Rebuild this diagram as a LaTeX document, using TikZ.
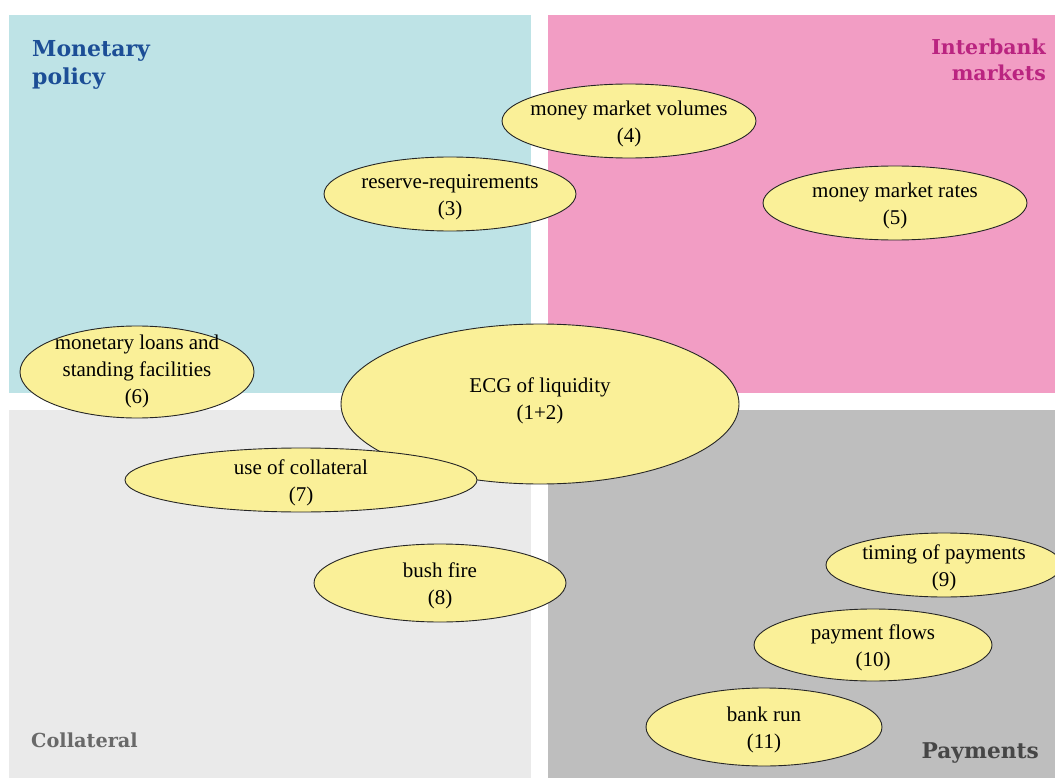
\documentclass[tikz,border=0pt]{standalone}
\usepackage{fontspec}
\setmainfont{Liberation Serif}
\newfontfamily\headfont{DejaVu Serif}
\definecolor{mpbg}{RGB}{190,227,230}
\definecolor{ibbg}{RGB}{242,157,196}
\definecolor{colbg}{RGB}{234,234,234}
\definecolor{paybg}{RGB}{190,190,190}
\definecolor{bubblefill}{RGB}{250,240,152}
\definecolor{mpblue}{RGB}{28,78,150}
\definecolor{ibmag}{RGB}{186,36,128}
\definecolor{colgray}{RGB}{105,105,105}
\definecolor{paygray}{RGB}{70,70,70}
\begin{document}
\begin{tikzpicture}[x=1pt,y=-1pt,
  bubble/.style={fill=bubblefill,draw=black!85,line width=0.9pt},
  label/.style={align=center,inner sep=0pt,font=\fontsize{21}{27}\selectfont},
  head/.style={inner sep=0pt,font=\headfont\bfseries\fontsize{#1}{27}\selectfont}]
\useasboundingbox (0,0) rectangle (1055,778);
\fill[white] (0,0) rectangle (1055,778);
% quadrants
\fill[mpbg] (9,15) rectangle (531,393);
\fill[ibbg] (548,15) rectangle (1055,393);
\fill[colbg] (9,410) rectangle (531,778);
\fill[paybg] (548,410) rectangle (1055,778);
% headings
\node[head=22,text=mpblue,anchor=base west] (mp1) at (32,57) {Monetary};
\node[head=22,text=mpblue,anchor=base west] (mp2) at (32,85) {policy};
\node[head=20.5,text=ibmag,anchor=base east] (ib1) at (1046,55) {Interbank};
\node[head=20.5,text=ibmag,anchor=base east] (ib2) at (1046,81) {markets};
\node[head=19.3,text=colgray,anchor=base west] (col) at (31,747) {Collateral};
\node[head=21.7,text=paygray,anchor=base east] (pay) at (1039,758) {Payments};
% bubbles
\path[bubble] (629,121) ellipse [x radius=127, y radius=37];
\node[label] (n4) at (629,124) {money market volumes\\(4)};
\path[bubble] (450,194) ellipse [x radius=126, y radius=37];
\node[label] (n3) at (450,197) {reserve-requirements\\(3)};
\path[bubble] (895,203) ellipse [x radius=132, y radius=37];
\node[label] (n5) at (895,206) {money market rates\\(5)};
\path[bubble] (137,372) ellipse [x radius=117, y radius=46];
\node[label] (n6) at (137,371) {monetary loans and\\standing facilities\\(6)};
\path[bubble] (540,404) ellipse [x radius=199, y radius=80];
\node[label] (n12) at (540,401) {ECG of liquidity\\(1+2)};
\path[bubble] (301,480) ellipse [x radius=176, y radius=32];
\node[label] (n7) at (301,483) {use of collateral\\(7)};
\path[bubble] (440,583) ellipse [x radius=126, y radius=39];
\node[label] (n8) at (440,586) {bush fire\\(8)};
\path[bubble] (944,565) ellipse [x radius=118, y radius=32];
\node[label] (n9) at (944,568) {timing of payments\\(9)};
\path[bubble] (873,645) ellipse [x radius=119, y radius=36];
\node[label] (n10) at (873,648) {payment flows\\(10)};
\path[bubble] (764,727) ellipse [x radius=118, y radius=39];
\node[label] (n11) at (764,730) {bank run\\(11)};
\end{tikzpicture}
\end{document}
